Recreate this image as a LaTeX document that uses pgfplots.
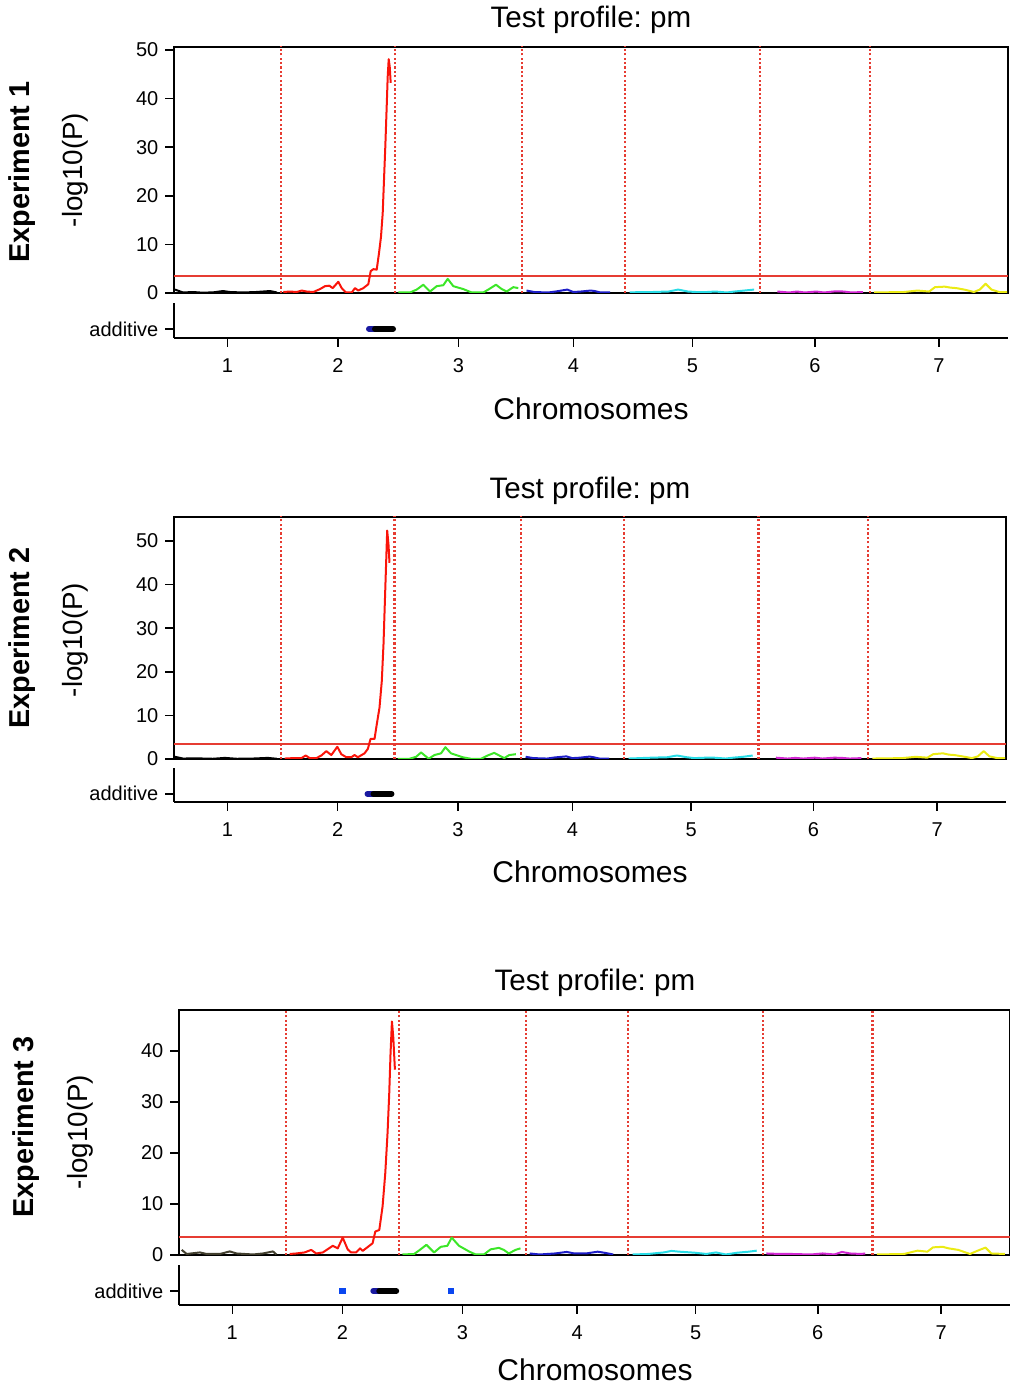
\documentclass[border=0pt]{standalone}
\usepackage{pgfplots}
\pgfplotsset{compat=1.18}
\usepackage{fontspec}
\setmainfont{Liberation Sans}
\frenchspacing

\definecolor{cred}{RGB}{250,20,10}
\definecolor{cgreen}{RGB}{60,230,40}
\definecolor{cblue}{RGB}{30,30,200}
\definecolor{ccyan}{RGB}{40,220,230}
\definecolor{cmag}{RGB}{210,40,210}
\definecolor{cyel}{RGB}{235,235,20}
\definecolor{thr}{RGB}{230,60,50}
\definecolor{bardark}{RGB}{25,25,160}
\definecolor{dotblue}{RGB}{10,70,240}

\pgfplotsset{
  mainax/.style={
    scale only axis, anchor=south west,
    xmin=0, xmax=834, ymin=0,
    xtick=\empty, ytick pos=left,
    tick align=outside, major tick length=4.3pt,
    tick style={black, line width=0.8pt},
    axis line style={line width=1pt},
    tick label style={font=\fontsize{10}{12}\selectfont},
    /pgf/number format/assume math mode=true,
    every axis plot/.append style={line width=1pt, line join=round},
  },
  stripax/.style={
    scale only axis, anchor=south west,
    xmin=0, xmax=834, ymin=0, ymax=1,
    axis x line*=bottom, axis y line*=left,
    axis line style={-, line width=1pt},
    tick align=outside, major tick length=4.3pt,
    tick style={black, line width=0.8pt},
    tick label style={font=\fontsize{10}{12}\selectfont},
    xtick={53.5,164,284.5,399.5,518.5,641,765},
    xticklabels={1,2,3,4,5,6,7},
    xticklabel style={yshift=-2.3pt},
    /pgf/number format/assume math mode=true,
  },
  chrline/.style={thr, line width=1.1pt, dash pattern=on 1.1pt off 1.1pt},
  thrline/.style={thr, line width=0.9pt},
  bar/.style={line width=3pt, line cap=round},
}

\begin{document}
\begin{tikzpicture}
\path[use as bounding box] (0pt,0pt) rectangle (505pt,692.5pt);

% ================= Experiment 1 =================
\begin{axis}[mainax, at={(87pt,546pt)}, width=417pt, height=123pt,
  ymax=50.6, ytick={0,10,20,30,40,50}]
\addplot[chrline] coordinates {(107,0) (107,60)};
\addplot[chrline] coordinates {(221,0) (221,60)};
\addplot[chrline] coordinates {(348,0) (348,60)};
\addplot[chrline] coordinates {(451,0) (451,60)};
\addplot[chrline] coordinates {(586,0) (586,60)};
\addplot[chrline] coordinates {(696,0) (696,60)};
\addplot[thrline] coordinates {(0,3.5) (834,3.5)};
\addplot[black] coordinates {(1,0.7) (9,0.1) (19,0.2) (29,0.05) (40,0.15) (49,0.4) (56,0.2) (69,0.1) (82,0.2) (96,0.4) (103,0.1)};
\addplot[cred] coordinates {(109.3,0.2) (116,0.3) (122.7,0.2) (127.7,0.5) (132.7,0.3) (139.3,0.2) (146,0.8) (151,1.4) (155.3,1.5) (158.7,1.0) (164.3,2.3) (167.7,1.0) (172,0.1) (177.7,0.1) (181,1.0) (184.3,0.5) (189.3,1.0) (194.3,1.8) (196.7,4.5) (199.3,4.9) (202.7,4.8) (205,8.2) (207,11.6) (208.7,16.4) (210,23.3) (211.3,30.1) (212.7,38.4) (213.7,44.5) (214.7,48.1) (215.7,46.6) (216.7,43.2)};
\addplot[cgreen] coordinates {(224.3,0.1) (236,0.1) (242.7,0.7) (249.3,1.7) (256,0.3) (262.7,1.4) (269.3,1.6) (273.7,2.9) (279.3,1.4) (289.3,0.8) (297.7,0.1) (309.3,0.1) (314.3,0.7) (322,1.7) (327.7,0.8) (332.7,0.3) (339.3,1.2) (344.3,1.0)};
\addplot[cblue] coordinates {(352.5,0.5) (360.2,0.2) (373.9,0.1) (381.6,0.3) (393.3,0.7) (399.2,0.2) (406.9,0.3) (416.7,0.5) (420.6,0.4) (426.4,0.1) (436.1,0.1)};
\addplot[ccyan] coordinates {(455.6,0.1) (467.2,0.2) (478.9,0.2) (494.5,0.3) (504.2,0.7) (513.9,0.3) (521.7,0.2) (533.4,0.2) (541.2,0.3) (552.8,0.1) (560.6,0.3) (570.4,0.5) (580.1,0.7)};
\addplot[cmag] coordinates {(603.4,0.3) (615.1,0.1) (622.9,0.3) (630.7,0.1) (642.3,0.3) (650.1,0.1) (661.8,0.35) (669.6,0.3) (677.4,0.1) (689,0.2)};
\addplot[cyel] coordinates {(700,0.1) (729.9,0.2) (743.5,0.5) (755.2,0.3) (761,1.2) (770.7,1.3) (776.6,1.1) (782.4,1.0) (790.2,0.7) (799.9,0.2) (805.8,0.7) (811.6,1.9) (817.4,0.7) (825.2,0.2) (833,0.2)};
\end{axis}
\begin{axis}[stripax, at={(87pt,523.5pt)}, width=417pt, height=17.5pt,
  ytick={0.26}, yticklabels={additive}]
\addplot[bar, bardark] coordinates {(195,0.26) (201,0.26)};
\addplot[bar, black] coordinates {(201,0.26) (219,0.26)};
\end{axis}
\node[font=\fontsize{14.8}{17}\selectfont] at (295.5pt,682.5pt) {Test profile: pm};
\node[font=\fontsize{15}{18}\selectfont] at (295.5pt,488pt) {Chromosomes};
\node[rotate=90, font=\fontsize{13.9}{16}\selectfont] at (37.5pt,607.5pt) {-log10(P)};
\node[rotate=90, font=\fontsize{14.4}{17}\selectfont\bfseries] at (11pt,606.5pt) {Experiment 1};

% ================= Experiment 2 =================
\begin{axis}[mainax, at={(87pt,313pt)}, width=416pt, height=121pt,
  ymax=55.5, ytick={0,10,20,30,40,50}]
\addplot[chrline] coordinates {(107,0) (107,60)};
\addplot[chrline] coordinates {(221,0) (221,60)};
\addplot[chrline] coordinates {(348,0) (348,60)};
\addplot[chrline] coordinates {(451,0) (451,60)};
\addplot[chrline] coordinates {(586,0) (586,60)};
\addplot[chrline] coordinates {(696,0) (696,60)};
\addplot[thrline] coordinates {(0,3.5) (834,3.5)};
\addplot[black] coordinates {(1,0.5) (9,0.1) (22,0.15) (39,0.05) (51,0.25) (63,0.05) (79,0.1) (94,0.25) (103,0.05)};
\addplot[cred] coordinates {(111,0.1) (119.3,0.2) (127.7,0.2) (132,0.8) (136,0.2) (142.7,0.2) (147.7,0.8) (152.7,1.8) (157.7,0.9) (163.7,2.8) (167.7,1.1) (172.7,0.4) (177.7,0.4) (181,0.9) (184.3,0.4) (191,1.3) (194.3,2.3) (197,4.6) (201,4.6) (203.3,8.0) (206,11.8) (208.3,17.9) (210,26.3) (211.3,35.5) (212.7,45.4) (213.7,52.4) (215,49.2) (216,45)};
\addplot[cgreen] coordinates {(224.3,0.05) (236,0.05) (242.7,0.5) (247.7,1.5) (255.3,0.05) (261,0.9) (267.7,1.3) (272,2.7) (277.7,1.3) (289.3,0.4) (297.7,0.05) (307.7,0.05) (314.3,0.8) (321,1.4) (327.7,0.6) (331,0.2) (336,0.9) (342.7,1.1)};
\addplot[cblue] coordinates {(352.5,0.5) (360.2,0.2) (373.9,0.1) (381.6,0.35) (393.3,0.6) (399.2,0.2) (406.9,0.3) (416.7,0.55) (420.6,0.4) (426.4,0.1) (436.1,0.1)};
\addplot[ccyan] coordinates {(455.6,0.1) (467.2,0.2) (478.9,0.3) (494.5,0.4) (504.2,0.8) (513.9,0.4) (521.7,0.2) (533.4,0.3) (541.2,0.3) (552.8,0.1) (560.6,0.3) (570.4,0.5) (580.1,0.8)};
\addplot[cmag] coordinates {(603.4,0.3) (615.1,0.1) (622.9,0.25) (630.7,0.1) (642.3,0.3) (650.1,0.1) (661.8,0.3) (669.6,0.25) (677.4,0.1) (689,0.2)};
\addplot[cyel] coordinates {(700,0.1) (729.9,0.2) (743.5,0.5) (755.2,0.3) (761,1.1) (770.7,1.3) (776.6,1.0) (782.4,0.9) (790.2,0.6) (799.9,0.2) (805.8,0.6) (811.6,1.8) (817.4,0.6) (825.2,0.2) (833,0.2)};
\end{axis}
\begin{axis}[stripax, at={(87pt,291.5pt)}, width=416pt, height=17pt,
  ytick={0.24}, yticklabels={additive}]
\addplot[bar, bardark] coordinates {(194,0.24) (200,0.24)};
\addplot[bar, black] coordinates {(200,0.24) (218,0.24)};
\end{axis}
\node[font=\fontsize{14.8}{17}\selectfont] at (295pt,447pt) {Test profile: pm};
\node[font=\fontsize{15}{18}\selectfont] at (295pt,256.5pt) {Chromosomes};
\node[rotate=90, font=\fontsize{13.9}{16}\selectfont] at (37.5pt,372.5pt) {-log10(P)};
\node[rotate=90, font=\fontsize{14.4}{17}\selectfont\bfseries] at (11pt,373.5pt) {Experiment 2};

% ================= Experiment 3 =================
\begin{axis}[mainax, at={(89.5pt,65pt)}, width=415.5pt, height=122.5pt,
  ymax=48, ytick={0,10,20,30,40}]
\addplot[chrline] coordinates {(107,0) (107,60)};
\addplot[chrline] coordinates {(221,0) (221,60)};
\addplot[chrline] coordinates {(348,0) (348,60)};
\addplot[chrline] coordinates {(451,0) (451,60)};
\addplot[chrline] coordinates {(586,0) (586,60)};
\addplot[chrline] coordinates {(696,0) (696,60)};
\addplot[thrline] coordinates {(0,3.5) (834,3.5)};
\addplot[black!70!olive] coordinates {(2.7,1.0) (7.7,0.2) (21,0.5) (27.7,0.2) (41,0.2) (51,0.7) (57.7,0.3) (74.3,0.1) (84.3,0.3) (94.3,0.7) (97.7,0.1)};
\addplot[cred] coordinates {(111,0.2) (117.7,0.3) (126,0.5) (132.7,1.0) (137.7,0.3) (144.3,0.5) (154.3,1.8) (159.3,1.3) (164.3,3.4) (169.3,1.1) (172.7,0.5) (177.7,0.5) (181.7,1.3) (184.3,0.8) (191,1.8) (194.3,2.3) (197,4.6) (201,4.9) (204.3,9.5) (207,16) (209.3,23.9) (211,31.7) (212.3,39.5) (213.7,45.75) (215,42.8) (216.7,36.3)};
\addplot[cgreen] coordinates {(224.3,0.1) (236,0.2) (241.7,1.0) (248.3,2.0) (256,0.5) (262.7,1.6) (269.3,1.8) (273.7,3.4) (281,1.8) (291,0.7) (297.7,0.1) (306,0.1) (312.7,1.1) (321,1.4) (326,1.0) (331,0.3) (337.7,1.0) (342.7,1.3)};
\addplot[cblue] coordinates {(352,0.3) (361.9,0.1) (377.4,0.3) (389.1,0.6) (396.9,0.3) (408.6,0.3) (420.2,0.65) (428,0.4) (435.8,0.1)};
\addplot[ccyan] coordinates {(455.3,0.1) (470.8,0.2) (486.4,0.5) (494.2,0.8) (502,0.65) (517.5,0.45) (529.2,0.2) (538.9,0.5) (548.7,0.1) (560.3,0.45) (572,0.65) (579.8,0.85)};
\addplot[cmag] coordinates {(589.5,0.3) (603.1,0.2) (614.8,0.2) (634.3,0.1) (645.9,0.3) (657.6,0.1) (665.4,0.6) (673.2,0.3) (684.8,0.2) (688.7,0.3)};
\addplot[cyel] coordinates {(700.4,0.1) (727.6,0.2) (741.2,0.85) (751,0.65) (756.8,1.5) (766.5,1.6) (772.4,1.3) (782.1,1.0) (793.8,0.2) (801.6,0.85) (809.4,1.45) (815.2,0.3) (828.8,0.2)};
\end{axis}
\begin{axis}[stripax, at={(89.5pt,40pt)}, width=415.5pt, height=20pt,
  ytick={0.35}, yticklabels={additive}]
\addplot[bar, bardark] coordinates {(195,0.35) (201,0.35)};
\addplot[bar, black] coordinates {(201,0.35) (218,0.35)};
\addplot[only marks, mark=square*, mark size=1.4pt, dotblue] coordinates {(164,0.35) (273,0.35)};
\end{axis}
\node[font=\fontsize{14.8}{17}\selectfont] at (297.5pt,201pt) {Test profile: pm};
\node[font=\fontsize{15}{18}\selectfont] at (297.5pt,7.5pt) {Chromosomes};
\node[rotate=90, font=\fontsize{13.9}{16}\selectfont] at (40pt,126.5pt) {-log10(P)};
\node[rotate=90, font=\fontsize{14.4}{17}\selectfont\bfseries] at (13pt,129pt) {Experiment 3};
\end{tikzpicture}
\end{document}
